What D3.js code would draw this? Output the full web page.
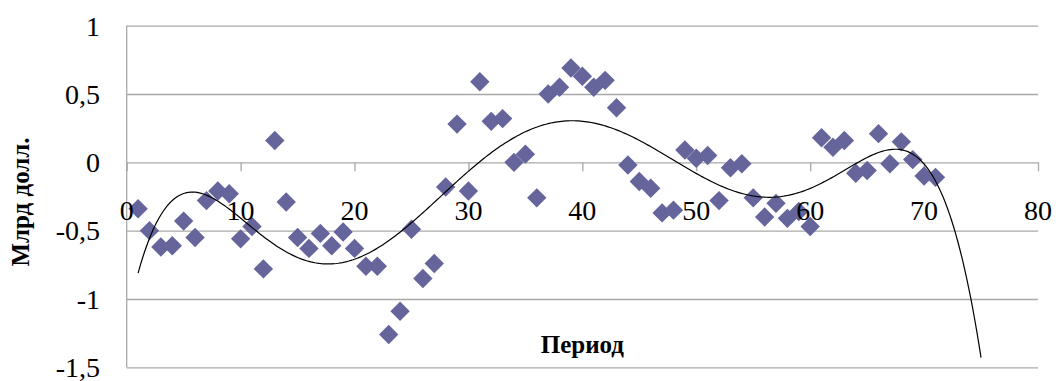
<!DOCTYPE html>
<html>
<head>
<meta charset="utf-8">
<script src="https://cdn.jsdelivr.net/npm/d3@7"></script>
<style>
  html, body { margin: 0; padding: 0; background: #fff; }
  svg { display: block; }
  text { font-family: "Liberation Serif", "Times New Roman", serif; fill: #000; }
</style>
</head>
<body>
<svg id="chart" width="1056" height="381"></svg>
<script>
// Observation periods
const periods = [
  1, 2, 3, 4, 5, 6, 7, 8, 9, 10,
  11, 12, 13, 14, 15, 16, 17, 18, 19, 20,
  21, 22, 23, 24, 25, 26, 27, 28, 29, 30,
  31, 32, 33, 34, 35, 36, 37, 38, 39, 40,
  41, 42, 43, 44, 45, 46, 47, 48, 49, 50,
  51, 52, 53, 54, 55, 56, 57, 58, 59, 60,
  61, 62, 63, 64, 65, 66, 67, 68, 69, 70,
  71
];
// Value per period, billion dollars
const values = [
  -0.34, -0.50, -0.62, -0.61, -0.43, -0.55, -0.28, -0.21, -0.23, -0.56,
  -0.47, -0.78,  0.16, -0.29, -0.55, -0.63, -0.52, -0.61, -0.51, -0.63,
  -0.76, -0.76, -1.26, -1.09, -0.49, -0.85, -0.74, -0.18,  0.28, -0.21,
   0.59,  0.30,  0.32,  0.00,  0.06, -0.26,  0.50,  0.55,  0.69,  0.63,
   0.55,  0.60,  0.40, -0.02, -0.14, -0.19, -0.37, -0.35,  0.09,  0.03,
   0.05, -0.28, -0.04, -0.01, -0.26, -0.40, -0.30, -0.41, -0.36, -0.47,
   0.18,  0.11,  0.16, -0.08, -0.06,  0.21, -0.01,  0.15,  0.02, -0.10,
  -0.11
];
const xTicks = [0, 10, 20, 30, 40, 50, 60, 70, 80];
const yTicks = [-1.5, -1, -0.5, 0, 0.5, 1];
const xTitle = "Период";
const yTitle = "Млрд долл.";
// Polynomial trend: order and forecast horizon (periods ahead)
const trendOrder = 6;
const trendForward = 4;

const svg = d3.select("#chart");
const x = d3.scaleLinear().domain([0, 80]).range([126.7, 1038]);
const y = d3.scaleLinear().domain([-1.5, 1]).range([367.3, 25.7]);
const fmt = v => String(v).replace(".", ",");

// Horizontal gridlines, drawn as outward ticks of the value axis
svg.append("g")
  .attr("transform", `translate(${x(0)},0)`)
  .call(d3.axisLeft(y).tickValues(yTicks).tickSize(10).tickFormat(""))
  .call(g => g.select(".domain").remove())
  .call(g => g.selectAll(".tick line")
    .attr("x2", x(80) - x(0))
    .attr("stroke", "#a9a9a9")
    .attr("stroke-width", 1.3));

// Vertical value axis line
svg.append("line")
  .attr("x1", x(0)).attr("x2", x(0))
  .attr("y1", y(1)).attr("y2", y(-1.5))
  .attr("stroke", "#a9a9a9").attr("stroke-width", 1.3);

// Category axis crossing at zero, ticks pointing down
svg.append("g")
  .attr("transform", `translate(0,${y(0)})`)
  .call(d3.axisBottom(x).tickValues(xTicks).tickSize(9).tickFormat(""))
  .call(g => g.select(".domain").remove())
  .call(g => g.selectAll(".tick line").attr("stroke", "#a9a9a9").attr("stroke-width", 1.3));

// Data points as diamonds
const r = 9.7;
const diamond = `M0,${-r}L${r},0L0,${r}L${-r},0Z`;
svg.append("g")
  .selectAll("path")
  .data(periods.map((p, i) => [p, values[i]]))
  .join("path")
  .attr("d", diamond)
  .attr("transform", d => `translate(${x(d[0])},${y(d[1])})`)
  .attr("fill", "#65659c");

// Least-squares polynomial trend over the points
function polyFit(xs, ys, order) {
  const mid = (d3.min(xs) + d3.max(xs)) / 2;
  const half = (d3.max(xs) - d3.min(xs)) / 2;
  const n = order + 1;
  const A = Array.from({ length: n }, () => new Array(n + 1).fill(0));
  xs.forEach((xv, k) => {
    const t = (xv - mid) / half;
    const pw = [];
    for (let i = 0; i < 2 * n; i++) pw.push(Math.pow(t, i));
    for (let i = 0; i < n; i++) {
      for (let j = 0; j < n; j++) A[i][j] += pw[i + j];
      A[i][n] += pw[i] * ys[k];
    }
  });
  for (let c = 0; c < n; c++) {
    let piv = c;
    for (let rr = c + 1; rr < n; rr++) if (Math.abs(A[rr][c]) > Math.abs(A[piv][c])) piv = rr;
    [A[c], A[piv]] = [A[piv], A[c]];
    for (let rr = 0; rr < n; rr++) {
      if (rr === c) continue;
      const f = A[rr][c] / A[c][c];
      for (let k = c; k <= n; k++) A[rr][k] -= f * A[c][k];
    }
  }
  const coef = A.map((row, i) => row[n] / row[i]);
  return xv => {
    const t = (xv - mid) / half;
    let s = 0;
    for (let i = n - 1; i >= 0; i--) s = s * t + coef[i];
    return s;
  };
}
const trend = polyFit(periods, values, trendOrder);
const tStart = d3.min(periods), tEnd = d3.max(periods) + trendForward;
const trendPts = [];
for (let k = 0; k <= 400; k++) {
  const xv = tStart + (tEnd - tStart) * k / 400;
  trendPts.push([xv, trend(xv)]);
}
svg.append("path")
  .datum(trendPts)
  .attr("fill", "none")
  .attr("stroke", "#000")
  .attr("stroke-width", 1.2)
  .attr("d", d3.line().x(d => x(d[0])).y(d => y(d[1])));

// Tick labels
svg.append("g")
  .selectAll("text")
  .data(yTicks)
  .join("text")
  .attr("x", 100)
  .attr("y", d => y(d))
  .attr("dy", "0.35em")
  .attr("text-anchor", "end")
  .style("font-size", "28px")
  .text(fmt);

svg.append("g")
  .selectAll("text")
  .data(xTicks)
  .join("text")
  .attr("x", d => x(d))
  .attr("y", 219.5)
  .attr("text-anchor", "middle")
  .style("font-size", "28px")
  .text(d => d);

// Axis titles
svg.append("text")
  .attr("x", x(40))
  .attr("y", 353)
  .attr("text-anchor", "middle")
  .style("font-size", "25px")
  .style("font-weight", "bold")
  .text(xTitle);

svg.append("text")
  .attr("transform", "translate(29,202) rotate(-90)")
  .attr("text-anchor", "middle")
  .style("font-size", "25px")
  .style("font-weight", "bold")
  .text(yTitle);
</script>
</body>
</html>
